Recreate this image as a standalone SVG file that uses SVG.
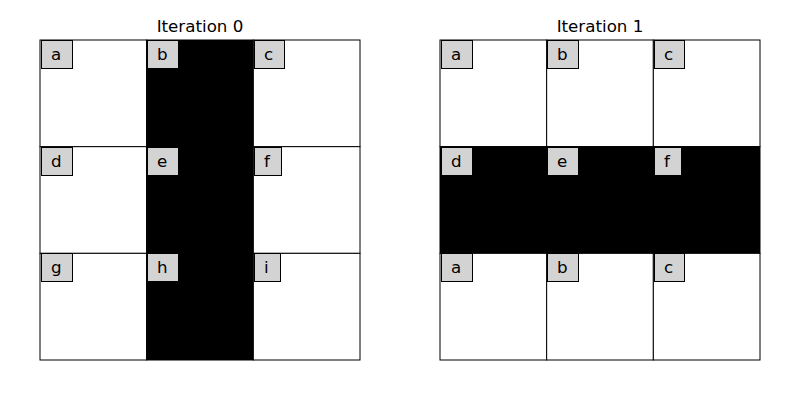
<svg xmlns="http://www.w3.org/2000/svg" width="800" height="400" viewBox="0 0 800 400">
<style>
.cell{fill:#fff;stroke:#000;stroke-width:1}
.on{fill:#000;stroke:#000;stroke-width:1}
.lb{fill:#d3d3d3;stroke:#000;stroke-width:1}
.t{font-family:"DejaVu Sans",sans-serif;font-size:16.7px;fill:#000}
.title{font-family:"DejaVu Sans",sans-serif;font-size:16.7px;fill:#000;text-anchor:middle}
</style>
<rect width="800" height="400" fill="#fff"/>
<text class="title" x="200" y="32">Iteration 0</text>
<text class="title" x="600" y="32">Iteration 1</text>
<g id="grid0">
<rect class="cell" x="40" y="40" width="106.67" height="106.67"/>
<rect class="on" x="146.67" y="40" width="106.67" height="106.67"/>
<rect class="cell" x="253.33" y="40" width="106.67" height="106.67"/>
<rect class="cell" x="40" y="146.67" width="106.67" height="106.67"/>
<rect class="on" x="146.67" y="146.67" width="106.67" height="106.67"/>
<rect class="cell" x="253.33" y="146.67" width="106.67" height="106.67"/>
<rect class="cell" x="40" y="253.33" width="106.67" height="106.67"/>
<rect class="on" x="146.67" y="253.33" width="106.67" height="106.67"/>
<rect class="cell" x="253.33" y="253.33" width="106.67" height="106.67"/>
</g>
<g id="grid1">
<rect class="cell" x="440" y="40" width="106.67" height="106.67"/>
<rect class="cell" x="546.67" y="40" width="106.67" height="106.67"/>
<rect class="cell" x="653.33" y="40" width="106.67" height="106.67"/>
<rect class="on" x="440" y="146.67" width="106.67" height="106.67"/>
<rect class="on" x="546.67" y="146.67" width="106.67" height="106.67"/>
<rect class="on" x="653.33" y="146.67" width="106.67" height="106.67"/>
<rect class="cell" x="440" y="253.33" width="106.67" height="106.67"/>
<rect class="cell" x="546.67" y="253.33" width="106.67" height="106.67"/>
<rect class="cell" x="653.33" y="253.33" width="106.67" height="106.67"/>
</g>
<g id="label-a0"><rect class="lb" x="41.5" y="40.5" width="31" height="28"/><text class="t" x="51" y="60">a</text></g>
<g id="label-b0"><rect class="lb" x="147.5" y="40.5" width="31" height="28"/><text class="t" x="157" y="60">b</text></g>
<g id="label-c0"><rect class="lb" x="254.5" y="40.5" width="30" height="28"/><text class="t" x="264" y="60">c</text></g>
<g id="label-d0"><rect class="lb" x="41.5" y="147.5" width="31" height="28"/><text class="t" x="51" y="167">d</text></g>
<g id="label-e0"><rect class="lb" x="147.5" y="147.5" width="31" height="28"/><text class="t" x="157" y="167">e</text></g>
<g id="label-f0"><rect class="lb" x="254.5" y="147.5" width="27" height="28"/><text class="t" x="264" y="167">f</text></g>
<g id="label-g0"><rect class="lb" x="41.5" y="253.5" width="31" height="28"/><text class="t" x="51" y="273">g</text></g>
<g id="label-h0"><rect class="lb" x="147.5" y="253.5" width="31" height="28"/><text class="t" x="157" y="273">h</text></g>
<g id="label-i0"><rect class="lb" x="254.5" y="253.5" width="26" height="28"/><text class="t" x="264" y="273">i</text></g>
<g id="label-a1"><rect class="lb" x="441.5" y="40.5" width="31" height="28"/><text class="t" x="451" y="60">a</text></g>
<g id="label-b1"><rect class="lb" x="547.5" y="40.5" width="31" height="28"/><text class="t" x="557" y="60">b</text></g>
<g id="label-c1"><rect class="lb" x="654.5" y="40.5" width="30" height="28"/><text class="t" x="664" y="60">c</text></g>
<g id="label-d1"><rect class="lb" x="441.5" y="147.5" width="31" height="28"/><text class="t" x="451" y="167">d</text></g>
<g id="label-e1"><rect class="lb" x="547.5" y="147.5" width="31" height="28"/><text class="t" x="557" y="167">e</text></g>
<g id="label-f1"><rect class="lb" x="654.5" y="147.5" width="27" height="28"/><text class="t" x="664" y="167">f</text></g>
<g id="label-a2"><rect class="lb" x="441.5" y="253.5" width="31" height="28"/><text class="t" x="451" y="273">a</text></g>
<g id="label-b2"><rect class="lb" x="547.5" y="253.5" width="31" height="28"/><text class="t" x="557" y="273">b</text></g>
<g id="label-c2"><rect class="lb" x="654.5" y="253.5" width="30" height="28"/><text class="t" x="664" y="273">c</text></g>
<g id="connectors"/>
</svg>
